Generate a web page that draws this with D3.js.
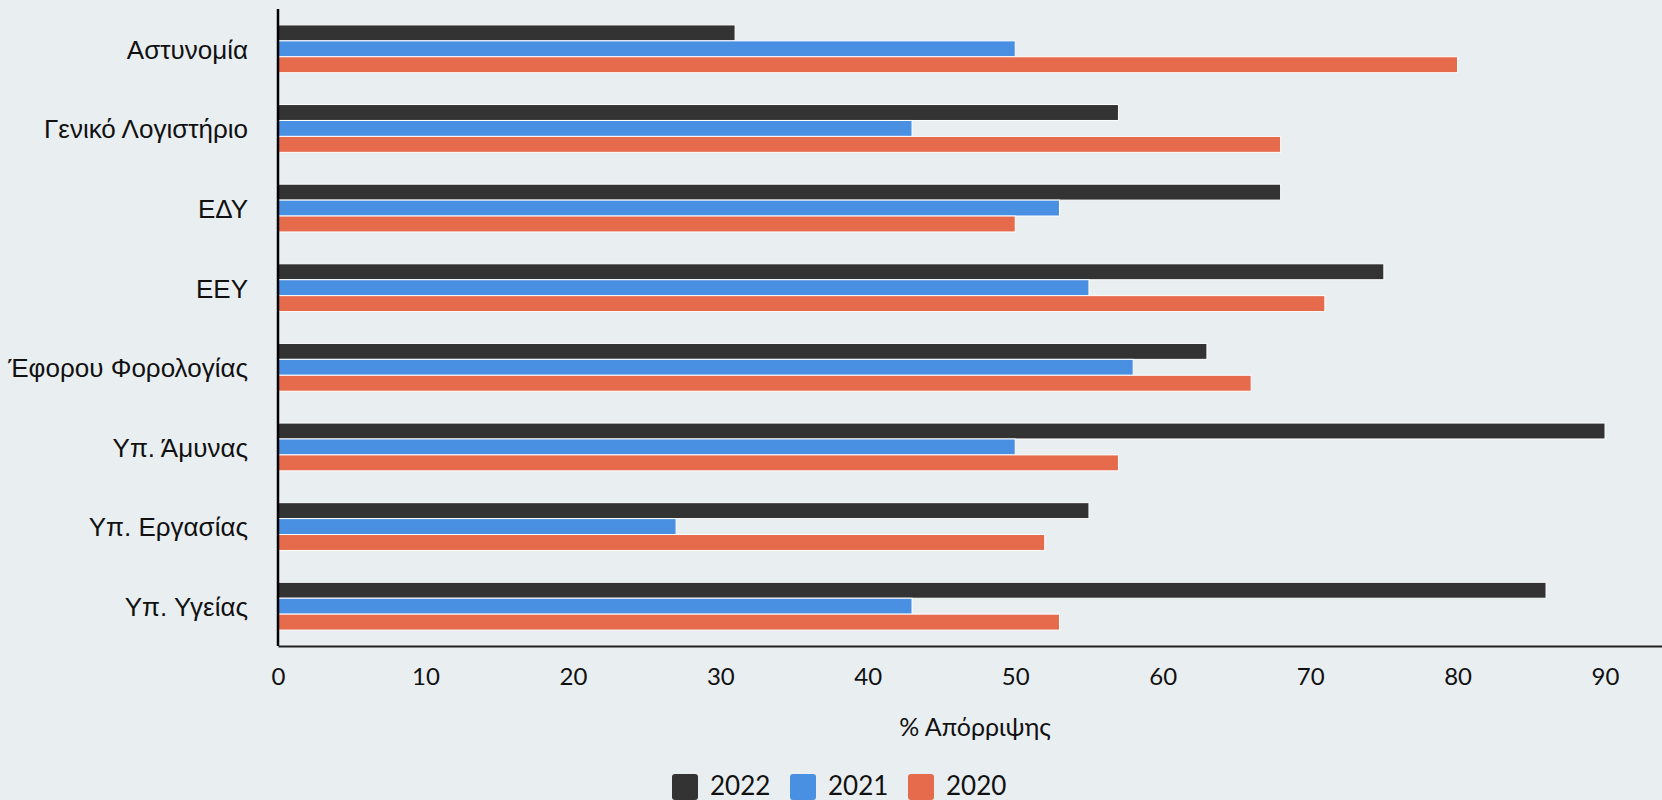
<!DOCTYPE html>
<html>
<head>
<meta charset="utf-8">
<script src="https://cdn.jsdelivr.net/npm/d3@7"></script>
<style>
  body { margin: 0; background: #e9eef1; }
  svg { display: block; }
</style>
</head>
<body>
<svg id="svg" width="1662" height="800"></svg>
<script>
var categories = ["Αστυνομία", "Γενικό Λογιστήριο", "ΕΔΥ", "ΕΕΥ", "Έφορου Φορολογίας", "Υπ. Άμυνας", "Υπ. Εργασίας", "Υπ. Υγείας"];
var seriesNames = ["2022", "2021", "2020"];
var values2022 = [31, 57, 68, 75, 63, 90, 55, 86];
var values2021 = [50, 43, 53, 55, 58, 50, 27, 43];
var values2020 = [80, 68, 50, 71, 66, 57, 52, 53];
var xTicks = [0, 10, 20, 30, 40, 50, 60, 70, 80, 90];
var colors = ["#333333", "#4a90e2", "#e66b4d"];

window.onload = function () {
    var svgWidth = 1662;
    var svgHeight = 800;
    var margin = { top: 9, left: 278, bottom: 154 };
    var chartHeight = svgHeight - margin.top - margin.bottom;

    var svg = d3.select("svg");

    var dataset = categories.map(function (c, i) {
        return { name: c, vals: [values2022[i], values2021[i], values2020[i]] };
    });

    var xScale = d3.scaleLinear()
        .domain([0, 94])
        .range([margin.left, 1664]);

    var yScale = d3.scaleBand()
        .domain(categories)
        .range([margin.top, margin.top + chartHeight])
        .paddingInner(0.4)
        .paddingOuter(0.2);

    var ySub = d3.scaleBand()
        .domain(seriesNames)
        .range([0, yScale.bandwidth()]);

    // bars
    var groups = svg.selectAll(".grp")
        .data(dataset)
        .enter()
        .append("g")
        .attr("class", "grp")
        .attr("transform", function (d) { return "translate(0," + yScale(d.name) + ")"; });

    groups.selectAll("rect")
        .data(function (d) { return d.vals.map(function (v, i) { return { s: seriesNames[i], v: v, i: i }; }); })
        .enter()
        .append("rect")
        .attr("x", xScale(0))
        .attr("y", function (d) { return ySub(d.s); })
        .attr("width", function (d) { return xScale(d.v) - xScale(0); })
        .attr("height", ySub.bandwidth())
        .attr("fill", function (d) { return colors[d.i]; })
        .attr("stroke", "#ffffff")
        .attr("stroke-width", 1);

    // y labels
    svg.selectAll(".ylab")
        .data(categories)
        .enter()
        .append("text")
        .attr("class", "ylab")
        .attr("x", 248)
        .attr("y", function (d) { return yScale(d) + yScale.bandwidth() / 2; })
        .attr("dy", "0.38em")
        .attr("text-anchor", "end")
        .attr("font-family", "Liberation Sans, Arial, sans-serif")
        .attr("font-size", 26)
        .attr("fill", "#111")
        .text(function (d) { return d; });

    // x axis
    var xAxis = d3.axisBottom(xScale)
        .tickValues(xTicks)
        .tickSize(0)
        .tickPadding(22)
        .tickFormat(d3.format("d"));

    var gx = svg.append("g")
        .attr("transform", "translate(0," + (margin.top + chartHeight) + ")")
        .call(xAxis);
    gx.select(".domain").attr("stroke", "#222").attr("stroke-width", 2);
    gx.selectAll("text")
        .attr("font-family", "Lato, sans-serif")
        .attr("font-size", 24)
        .attr("fill", "#111");

    // y axis line
    svg.append("line")
        .attr("x1", xScale(0)).attr("x2", xScale(0))
        .attr("y1", margin.top).attr("y2", margin.top + chartHeight)
        .attr("stroke", "#000").attr("stroke-width", 2.5);

    // axis title
    svg.append("text")
        .attr("x", 975)
        .attr("y", 736)
        .attr("text-anchor", "middle")
        .attr("font-family", "Lato, sans-serif")
        .attr("font-size", 25)
        .attr("fill", "#111")
        .text("% Απόρριψης");

    // legend
    var legend = svg.selectAll(".leg")
        .data(seriesNames)
        .enter()
        .append("g")
        .attr("class", "leg")
        .attr("transform", function (d, i) { return "translate(" + (672 + i * 118) + ",774)"; });

    legend.append("rect")
        .attr("width", 26).attr("height", 26)
        .attr("rx", 3)
        .attr("fill", function (d, i) { return colors[i]; });

    legend.append("text")
        .attr("x", 38)
        .attr("y", 21)
        .attr("font-family", "Lato, sans-serif")
        .attr("font-size", 26)
        .attr("fill", "#111")
        .text(function (d) { return d; });
};
</script>
</body>
</html>
